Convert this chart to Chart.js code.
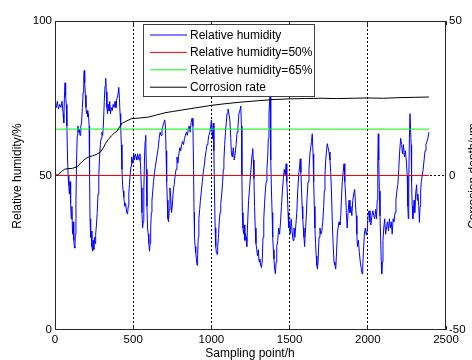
<!DOCTYPE html>
<html>
<head>
<meta charset="utf-8">
<script src="https://cdn.jsdelivr.net/npm/chart.js@4"></script>
<style>
  html, body { margin: 0; padding: 0; background: #fff; overflow: hidden; }
  #wrap { width: 472px; height: 360px; }
</style>
</head>
<body>
<div id="wrap"><canvas id="rh-chart" width="472" height="360"></canvas></div>
<script>
// sampling point (h) and relative humidity (%)
const sampleHours = [
  0, 8, 15, 22, 30, 38, 45, 52, 56, 60, 64, 68, 72, 76, 80, 84, 88, 92, 96, 100,
  104, 108, 112, 116, 120, 124, 127, 130, 134, 138, 142, 146, 150, 155, 160, 165, 170, 175, 180, 184,
  187, 190, 194, 198, 202, 206, 210, 214, 218, 221, 224, 228, 232, 236, 240, 244, 248, 252, 256, 260,
  265, 270, 275, 280, 285, 290, 295, 300, 305, 310, 315, 320, 324, 328, 332, 336, 340, 345, 350, 355,
  360, 366, 372, 378, 384, 390, 396, 402, 408, 412, 416, 420, 424, 428, 432, 436, 440, 446, 452, 458,
  464, 468, 472, 476, 480, 486, 490, 494, 498, 503, 508, 513, 518, 523, 528, 533, 538, 543, 548, 552,
  556, 560, 564, 568, 572, 576, 580, 584, 588, 592, 596, 600, 604, 608, 612, 616, 620, 625, 630, 636,
  642, 648, 654, 660, 666, 672, 678, 684, 690, 696, 702, 706, 710, 714, 718, 722, 726, 730, 735, 740,
  745, 750, 756, 762, 768, 774, 780, 786, 792, 798, 804, 810, 816, 822, 828, 834, 840, 846, 852, 858,
  864, 870, 876, 882, 886, 889, 892, 896, 900, 904, 908, 912, 916, 920, 925, 930, 936, 942, 948, 954,
  960, 966, 972, 978, 984, 990, 996, 1000, 1004, 1008, 1012, 1016, 1020, 1024, 1028, 1032, 1036, 1040, 1045, 1050,
  1055, 1060, 1066, 1072, 1076, 1080, 1085, 1090, 1095, 1100, 1106, 1112, 1118, 1124, 1128, 1134, 1140, 1146, 1152, 1158,
  1164, 1170, 1176, 1182, 1188, 1192, 1195, 1198, 1202, 1206, 1210, 1214, 1218, 1222, 1226, 1232, 1238, 1244, 1250, 1256,
  1260, 1264, 1268, 1272, 1276, 1280, 1285, 1290, 1295, 1300, 1305, 1310, 1315, 1320, 1325, 1330, 1335, 1340, 1345, 1350,
  1355, 1360, 1364, 1368, 1372, 1375, 1378, 1381, 1384, 1388, 1392, 1396, 1400, 1404, 1409, 1414, 1418, 1424, 1430, 1436,
  1442, 1448, 1454, 1460, 1466, 1472, 1478, 1482, 1486, 1490, 1494, 1498, 1504, 1510, 1516, 1522, 1528, 1534, 1540, 1546,
  1552, 1558, 1564, 1568, 1572, 1576, 1580, 1584, 1588, 1592, 1596, 1600, 1606, 1612, 1618, 1624, 1630, 1635, 1640, 1645,
  1650, 1654, 1658, 1662, 1666, 1670, 1674, 1678, 1682, 1688, 1694, 1700, 1706, 1712, 1718, 1722, 1726, 1731, 1736, 1741,
  1746, 1752, 1758, 1763, 1768, 1773, 1778, 1784, 1790, 1795, 1800, 1805, 1810, 1816, 1822, 1827, 1832, 1837, 1842, 1848,
  1853, 1858, 1863, 1868, 1874, 1880, 1886, 1892, 1898, 1904, 1910, 1916, 1921, 1926, 1930, 1934, 1940, 1946, 1952, 1958,
  1963, 1968, 1972, 1978, 1984, 1990, 1996, 2002, 2008, 2014, 2020, 2026, 2032, 2038, 2044, 2050, 2056, 2060, 2064, 2067,
  2070, 2074, 2078, 2082, 2086, 2089, 2093, 2097, 2102, 2108, 2114, 2120, 2126, 2132, 2138, 2144, 2150, 2156, 2162, 2168,
  2174, 2180, 2186, 2192, 2198, 2204, 2210, 2216, 2222, 2228, 2234, 2240, 2246, 2252, 2256, 2259, 2262, 2266, 2270, 2274,
  2277, 2280, 2284, 2288, 2292, 2296, 2300, 2306, 2312, 2316, 2320, 2326, 2330, 2334, 2338, 2342, 2348, 2354, 2360, 2366,
  2372, 2378, 2384, 2391
];
const humidity = [
  73, 72, 74, 71.5, 73, 72, 74, 70, 67, 75, 80, 76, 73, 66, 56, 50, 47, 44, 48, 41,
  36, 40, 31, 35, 29, 27, 26.5, 31, 42, 55, 63, 66, 64, 65, 63, 66, 67, 72, 77, 82,
  84, 80, 76, 72, 70, 71, 69, 70, 66, 50, 36, 30, 32, 27, 25.5, 29, 26, 30, 28, 31,
  34, 38, 44, 50, 56, 60, 62, 64, 63, 67, 74, 79, 81.5, 77, 72, 70, 73, 71, 74, 70,
  72, 71, 73, 72, 74, 72, 75, 76, 78.5, 75, 70, 66, 60, 52, 47, 45, 43, 40, 41, 38,
  37.5, 40, 44, 47, 50, 53, 56, 55, 54, 57, 55, 57, 56, 55, 57, 56, 55, 57, 52, 46,
  38, 33, 35, 45, 55, 61, 63, 52, 40, 33, 31, 28, 25.5, 28, 33, 38, 42, 45, 48, 51,
  53, 55, 57, 59, 62, 64, 63, 65, 66, 67, 68, 66, 58, 48, 42, 36, 35, 39, 46, 43,
  38, 40, 45, 47, 50, 52, 56, 54, 57, 59, 58, 60, 61, 60, 62, 63, 64, 63, 65, 66,
  64, 67, 68.5, 66, 52, 38, 30, 27, 25, 23, 21, 24, 30, 36, 39, 42, 45, 48, 51, 53,
  56, 58, 60, 61, 63, 64, 66, 68, 64, 62, 67, 58, 44, 33, 27, 25, 24.5, 27, 30, 35,
  38, 41, 44, 48, 52, 55, 60, 64, 67, 70, 71.5, 70, 68, 62, 57, 56, 59, 55, 57, 60,
  64, 66, 70, 71, 72.5, 66, 50, 38, 33, 31, 34, 29, 31, 30, 27, 35, 42, 46, 50, 54,
  57, 58.7, 55, 49, 40, 33, 28, 26, 24, 26, 22, 23, 21, 20.2, 22, 30, 36, 41, 45, 48,
  52, 56, 62, 70, 74, 76, 66, 55, 45, 38, 30, 26, 23, 20, 18.2, 22, 27, 29, 33, 31,
  35, 40, 45, 49, 52, 50, 53.8, 48, 44, 38, 33, 35, 31, 36, 32, 29, 33, 30, 34, 38,
  45, 50, 53, 55.4, 51, 46, 40, 36, 33, 30, 27, 31, 36, 43, 48, 52, 57, 59, 61, 63.5,
  57, 48, 40, 33, 28, 24, 21, 19.7, 22, 30, 33, 31, 32, 35, 40, 45, 50, 55, 58, 60.3,
  59, 57.6, 55, 51, 44, 35, 28, 22, 21, 19.7, 25, 31, 33, 35, 34, 37, 43, 48, 51, 53.8,
  48, 44, 38, 33, 38, 42, 38, 40, 37, 42, 44, 45.5, 41, 37, 31, 27, 29, 25, 22, 20,
  18.2, 21, 25, 31, 33, 30.8, 32, 37, 38.6, 35, 34, 37, 38.6, 37, 36, 39, 36, 42, 55, 63.5,
  55, 45, 37, 30, 22, 18.2, 22, 29, 33, 36, 31, 33.4, 35, 32, 36, 33, 35, 31, 36, 35,
  38, 42, 45, 47, 52, 58, 62, 60, 57, 60, 56, 58, 55, 50, 40, 36, 48, 62, 70, 70,
  60, 48, 40, 36, 39, 42, 38, 44, 47, 42, 44, 40, 34.8, 40, 45, 48, 50, 52, 55, 58,
  60, 61, 62, 64
];

// corrosion depth (um, right axis)
const corrosionHours = [
  0, 20, 40, 60, 80, 110, 140, 160, 180, 200, 215, 240, 265, 290, 310, 322, 340, 360, 380, 396,
  426, 460, 490, 540, 597, 650, 703, 750, 800, 900, 1000, 1100, 1200, 1300, 1400, 1500, 1600, 1700, 1800, 1900,
  2000, 2100, 2200, 2300, 2391
];
const corrosionDepth = [
  0, 0.3, 1.2, 2, 2.2, 2.3, 2.8, 3.8, 4.8, 5.6, 6, 6.4, 6.8, 7.6, 9, 10.3, 11.6, 12.8, 13.8, 14.3,
  16.8, 17.7, 18.4, 18.6, 18.9, 19.6, 20.3, 20.7, 21.1, 21.9, 22.7, 23.3, 23.8, 24.2, 24.6, 24.8, 24.9, 25, 24.9, 25,
  25.1, 25, 25.2, 25.3, 25.4
];

const limitHours = [0, 2391];
const limit50 = [50, 50];
const limit65 = [65, 65];

const xTicks = [0, 500, 1000, 1500, 2000, 2500];
const leftTicks = [0, 50, 100];
const rightTicks = [-50, 0, 50];

const FONT = "'Liberation Sans', Arial, sans-serif";

function toPoints(xs, ys) {
  return xs.map((x, i) => ({ x: x, y: ys[i] }));
}

// snap to the pixel row/column a 1px line at this position covers
const snap = p => Math.floor(p) + 0.5;

// dotted grid, box, inward ticks, legend and axis titles drawn the MATLAB way
const matlabFrame = {
  id: 'matlabFrame',
  beforeDatasetsDraw(chart) {
    const { ctx, chartArea: a, scales } = chart;
    // the 50 % line covers the grid row up to its last sample, so dot only the rest
    const limitEnd = scales.x.getPixelForValue(limitHours[limitHours.length - 1]);
    ctx.save();
    ctx.strokeStyle = '#000';
    ctx.lineWidth = 1;
    ctx.setLineDash([2, 2]);
    ctx.beginPath();
    xTicks.slice(1, -1).forEach(v => {
      const x = snap(scales.x.getPixelForValue(v));
      ctx.moveTo(x, a.top); ctx.lineTo(x, a.bottom);
    });
    leftTicks.slice(1, -1).forEach(v => {
      const y = snap(scales.y.getPixelForValue(v));
      ctx.moveTo(Math.ceil(limitEnd) + 1, y); ctx.lineTo(a.right, y);
    });
    ctx.stroke();
    ctx.restore();
  },
  afterDatasetsDraw(chart) {
    const { ctx, chartArea: a, scales } = chart;
    ctx.save();
    ctx.setLineDash([]);
    ctx.strokeStyle = '#262626';
    ctx.lineWidth = 1;
    ctx.strokeRect(a.left + 0.5, a.top + 0.5, a.right - a.left - 1, a.bottom - a.top - 1);

    ctx.beginPath();
    xTicks.forEach(v => {
      const x = snap(scales.x.getPixelForValue(v));
      ctx.moveTo(x, a.bottom); ctx.lineTo(x, a.bottom - 4);
      ctx.moveTo(x, a.top); ctx.lineTo(x, a.top + 4);
    });
    ctx.stroke();

    // legend
    ctx.fillStyle = '#fff';
    ctx.fillRect(143, 24, 172, 73);
    ctx.strokeStyle = '#404040';
    ctx.strokeRect(143.5, 24.5, 171, 72);
    ctx.font = '12px ' + FONT;
    ctx.textBaseline = 'middle';
    ctx.textAlign = 'left';
    ctx.lineWidth = 1;
    chart.data.datasets.forEach((ds, i) => {
      const y = 35 + i * 17.4;
      ctx.strokeStyle = ds.borderColor;
      ctx.beginPath();
      ctx.moveTo(150, y); ctx.lineTo(187, y);
      ctx.stroke();
      ctx.fillStyle = '#000';
      ctx.fillText(ds.label, 190, y + 0.5);
    });

    // axis titles
    ctx.fillStyle = '#000';
    ctx.textAlign = 'center';
    ctx.fillText('Sampling point/h', 250, 354);
    ctx.save();
    ctx.translate(18, 176);
    ctx.rotate(-Math.PI / 2);
    ctx.fillText('Relative humidity/%', 0, 0);
    ctx.restore();
    ctx.save();
    ctx.translate(474, 176);
    ctx.rotate(-Math.PI / 2);
    ctx.fillText('Corrosion depth/\u03bcm', 0, 0);
    ctx.restore();
    ctx.restore();
  }
};

const tickFont = { family: FONT, size: 11.5 };
const plainLabel = v => String(v);

new Chart(document.getElementById('rh-chart'), {
  type: 'line',
  data: {
    datasets: [
      {
        label: 'Relative humidity',
        data: toPoints(sampleHours, humidity),
        borderColor: '#0000ff',
        yAxisID: 'y',
        order: 3
      },
      {
        label: 'Relative humidity=50%',
        data: toPoints(limitHours, limit50),
        borderColor: '#ff0000',
        yAxisID: 'y',
        order: 2
      },
      {
        label: 'Relative humidity=65%',
        data: toPoints(limitHours, limit65),
        borderColor: '#00ff00',
        yAxisID: 'y',
        order: 1
      },
      {
        label: 'Corrosion rate',
        data: toPoints(corrosionHours, corrosionDepth),
        borderColor: '#000000',
        yAxisID: 'y2',
        order: 0
      }
    ]
  },
  options: {
    responsive: false,
    animation: false,
    layout: { padding: { top: 21, left: 0, right: 0, bottom: 0 } },
    elements: {
      point: { radius: 0 },
      line: { borderWidth: 1, tension: 0 }
    },
    plugins: {
      legend: { display: false },
      tooltip: { enabled: false }
    },
    scales: {
      x: {
        type: 'linear',
        min: 0,
        max: 2500,
        afterBuildTicks: s => { s.ticks = xTicks.map(v => ({ value: v })); },
        afterFit: s => { s.height = 30; },
        grid: { display: false, drawTicks: false },
        border: { display: false },
        ticks: { padding: 3, maxRotation: 0, color: '#000', font: tickFont, callback: plainLabel }
      },
      y: {
        position: 'left',
        min: 0,
        max: 100,
        afterBuildTicks: s => { s.ticks = leftTicks.map(v => ({ value: v })); },
        afterFit: s => { s.width = 55; },
        grid: { display: false, drawTicks: false },
        border: { display: false },
        ticks: { padding: 3, color: '#000', font: tickFont, callback: plainLabel }
      },
      y2: {
        position: 'right',
        min: -50,
        max: 50,
        afterBuildTicks: s => { s.ticks = rightTicks.map(v => ({ value: v })); },
        afterFit: s => { s.width = 26; },
        grid: { display: false, drawTicks: false },
        border: { display: false },
        ticks: { padding: 3, color: '#000', font: tickFont, callback: plainLabel }
      }
    }
  },
  plugins: [matlabFrame]
});
</script>
</body>
</html>
